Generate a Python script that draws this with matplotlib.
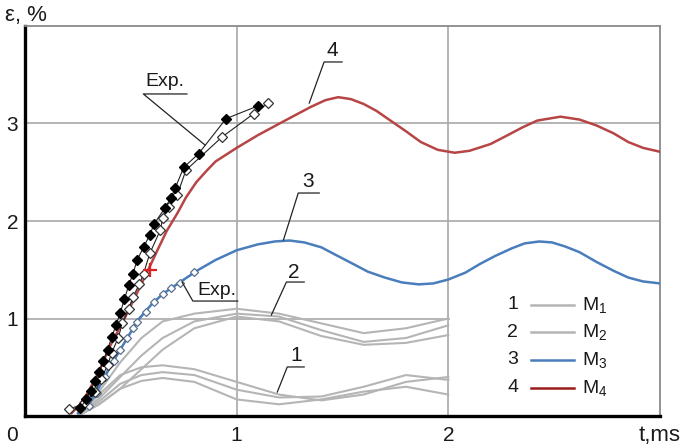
import matplotlib
matplotlib.use("Agg")
import matplotlib.pyplot as plt
from matplotlib.patches import Rectangle

plt.rcParams['font.family'] = ['Liberation Sans', 'DejaVu Sans']
plt.rcParams['mathtext.default'] = 'regular'

# ---- data (t in ms, strain in %) ----
m4_t = [0.22, 0.26, 0.30, 0.35, 0.40, 0.47, 0.52, 0.58, 0.63, 0.67, 0.72, 0.76, 0.81, 0.86, 0.90, 1.00, 1.10, 1.22, 1.35, 1.42, 1.48,
        1.54, 1.60, 1.66, 1.72, 1.80, 1.87, 1.95, 2.03, 2.10, 2.20, 2.28, 2.35, 2.42, 2.53, 2.62, 2.70, 2.78, 2.85, 2.92, 3.00]
m4_e = [0.03, 0.12, 0.25, 0.46, 0.71, 1.00, 1.22, 1.49, 1.72, 1.90, 2.08, 2.24, 2.40, 2.52, 2.61, 2.75, 2.88, 3.02, 3.17, 3.24, 3.27,
        3.25, 3.20, 3.13, 3.04, 2.92, 2.81, 2.73, 2.70, 2.72, 2.79, 2.88, 2.96, 3.03, 3.07, 3.04, 2.98, 2.90, 2.81, 2.75, 2.71]

m3_t = [0.25, 0.30, 0.35, 0.40, 0.45, 0.50, 0.54, 0.60, 0.65, 0.73, 0.82, 0.90, 1.00, 1.10, 1.18, 1.25, 1.32, 1.40, 1.47, 1.55, 1.62,
        1.70, 1.78, 1.86, 1.93, 2.00, 2.08, 2.15, 2.22, 2.30, 2.36, 2.43, 2.49, 2.55, 2.62, 2.70, 2.78, 2.85, 2.92, 3.00]
m3_e = [0.03, 0.12, 0.30, 0.50, 0.68, 0.86, 1.00, 1.15, 1.25, 1.37, 1.50, 1.60, 1.70, 1.76, 1.79, 1.80, 1.78, 1.73, 1.65, 1.56, 1.48,
        1.42, 1.37, 1.35, 1.36, 1.40, 1.47, 1.56, 1.64, 1.72, 1.77, 1.79, 1.78, 1.74, 1.68, 1.58, 1.49, 1.42, 1.38, 1.36]

m2_t = [0.25, 0.35, 0.45, 0.55, 0.65, 0.80, 1.00, 1.20, 1.40, 1.60, 1.80, 2.00]
m2a_e = [0.00, 0.25, 0.55, 0.80, 0.97, 1.05, 1.10, 1.05, 0.95, 0.85, 0.90, 1.00]
m2b_e = [0.00, 0.18, 0.40, 0.62, 0.80, 0.97, 1.05, 1.02, 0.88, 0.76, 0.80, 0.93]
m2c_e = [0.00, 0.12, 0.28, 0.48, 0.68, 0.90, 1.02, 0.97, 0.82, 0.73, 0.75, 0.83]

m1_t = [0.25, 0.35, 0.45, 0.55, 0.65, 0.80, 1.00, 1.20, 1.40, 1.60, 1.80, 2.00]
m1a_e = [0.00, 0.22, 0.42, 0.50, 0.52, 0.48, 0.35, 0.22, 0.16, 0.22, 0.35, 0.40]
m1b_e = [0.00, 0.15, 0.33, 0.42, 0.45, 0.42, 0.27, 0.19, 0.20, 0.30, 0.42, 0.37]
m1c_e = [0.00, 0.12, 0.28, 0.36, 0.39, 0.35, 0.17, 0.12, 0.17, 0.25, 0.30, 0.22]

exp_fill_t = [0.26, 0.29, 0.31, 0.33, 0.35, 0.37, 0.39, 0.41, 0.43, 0.45, 0.47, 0.49, 0.51, 0.53, 0.56, 0.59, 0.61, 0.66, 0.69, 0.71, 0.75, 0.82, 0.95, 1.10]
exp_fill_e = [0.08, 0.17, 0.26, 0.36, 0.45, 0.56, 0.68, 0.81, 0.93, 1.06, 1.20, 1.34, 1.46, 1.60, 1.73, 1.86, 1.97, 2.13, 2.24, 2.34, 2.55, 2.69, 3.05, 3.18]

exp_open_t = [0.21, 0.28, 0.33, 0.36, 0.39, 0.41, 0.44, 0.46, 0.49, 0.51, 0.54, 0.56, 0.59, 0.64, 0.65, 0.68, 0.72, 0.76, 0.93, 1.08, 1.15]
exp_open_e = [0.07, 0.13, 0.25, 0.38, 0.52, 0.65, 0.80, 0.95, 1.10, 1.22, 1.35, 1.46, 1.67, 1.91, 2.03, 2.14, 2.27, 2.52, 2.86, 3.10, 3.21]

exp3_t = [0.30, 0.34, 0.38, 0.42, 0.45, 0.48, 0.51, 0.53, 0.57, 0.61, 0.65, 0.69, 0.73, 0.80]
exp3_e = [0.10, 0.24, 0.40, 0.56, 0.68, 0.80, 0.90, 0.96, 1.07, 1.17, 1.25, 1.31, 1.36, 1.48]

cross_t = [0.59]
cross_e = [1.50]

x_ticks = [1, 2]
y_ticks = [1, 2, 3]
legend_nums = ['1', '2', '3', '4']
legend_names = ['M$_1$', 'M$_2$', 'M$_3$', 'M$_4$']

# ---- styling ----
RED = '#b84545'
RED_LEG = '#9a1c1c'
BLUE = '#4a7dbb'
GRAY = '#b5b5b5'
GRID = '#a8a8a8'
TXT = '#1a1a1a'

fig = plt.figure(figsize=(6.81, 4.48), dpi=100)
ax = fig.add_axes([25/681, 1-416/448, 635/681, 390/448])
ax.set_xlim(0, 3)
ax.set_ylim(0, 4)
ax.set_axisbelow(True)
ax.grid(True, color=GRID, lw=1.2)

for s in ['left', 'bottom']:
    ax.spines[s].set_color('black')
    ax.spines[s].set_linewidth(2.4)
for s in ['top', 'right']:
    ax.spines[s].set_color('#8a8a8a')
    ax.spines[s].set_linewidth(1.3)

ax.set_xticks(x_ticks)
ax.set_xticklabels([str(v) for v in x_ticks])
ax.set_yticks(y_ticks)
ax.set_yticklabels([str(v) for v in y_ticks])
ax.tick_params(length=0, labelsize=15, colors=TXT)
ax.tick_params(axis='x', pad=7)
ax.tick_params(axis='y', pad=5)

# white legend panel covering the grid at the lower right
ax.add_patch(Rectangle((2.006, 0.01), 0.99, 1.2, facecolor='white', edgecolor='none', zorder=1))

# gray model curves
for e in (m1a_e, m1b_e, m1c_e):
    ax.plot(m1_t, e, color=GRAY, lw=1.5, zorder=2)
for e in (m2a_e, m2b_e, m2c_e):
    ax.plot(m2_t, e, color=GRAY, lw=1.5, zorder=2)

ax.plot(m3_t, m3_e, color=BLUE, lw=1.8, zorder=3)
ax.plot(m4_t, m4_e, color=RED, lw=1.8, zorder=3)

# experiments
ax.plot(exp3_t, exp3_e, color=BLUE, lw=0.8, marker='D', ms=4.5, mfc='white', mec='#5a7090', mew=0.9, zorder=4)
ax.plot(exp_open_t, exp_open_e, color='#222222', lw=0.8, marker='D', ms=5, mfc='white', mec='#333333', mew=0.9, zorder=4)
ax.plot(exp_fill_t, exp_fill_e, color='#222222', lw=0.8, marker='D', ms=5.5, mfc='black', mec='black', zorder=5)
ax.plot(cross_t, cross_e, linestyle='none', marker='+', ms=10, mew=1.6, color='#e02020', zorder=6)

# callout labels
def callout(tx, ty, text, ux0, ux1, uy, lx, ly, size=15):
    ax.text(tx, ty, text, ha='center', va='center', fontsize=size, color=TXT, zorder=7)
    ax.plot([ux1, ux0, lx], [uy, uy, ly], color='#222222', lw=0.9, zorder=7)

callout(1.451, 3.75, '4', 1.413, 1.498, 3.631, 1.343, 3.21)
callout(1.338, 2.41, '3', 1.291, 1.390, 2.287, 1.221, 1.805)
callout(1.272, 1.47, '2', 1.235, 1.319, 1.374, 1.164, 1.036)
callout(1.282, 0.62, '1', 1.239, 1.319, 0.503, 1.192, 0.246)
callout(0.662, 3.43, 'Exp.', 0.559, 0.765, 3.303, 0.850, 2.78, size=14)
callout(0.906, 1.29, 'Exp.', 0.793, 1.005, 1.179, 0.742, 1.374, size=14)

# legend (drawn by hand: number, line, model name)
leg_colors = [GRAY, GRAY, BLUE, RED_LEG]
leg_y = [0.285, 0.215, 0.144, 0.072]
for num, name, c, yy in zip(legend_nums, legend_names, leg_colors, leg_y):
    ax.text(0.768, yy, num, transform=ax.transAxes, ha='center', va='center', fontsize=14, color=TXT, zorder=8)
    ax.plot([0.797, 0.865], [yy, yy], transform=ax.transAxes, color=c, lw=1.8, zorder=8)
    ax.text(0.877, yy, name, transform=ax.transAxes, ha='left', va='center', fontsize=14, color=TXT, zorder=8)

# axis texts
fig.text(12/681, 1-435/448, '0', ha='center', va='center', fontsize=15, color=TXT)
fig.text(681/681, 1-435/448, 't,ms', ha='right', va='center', fontsize=16, color=TXT)
fig.text(5/681, 1-15/448, 'ε, %', ha='left', va='center', fontsize=16, color=TXT)

fig.savefig('out.png', dpi=100)
